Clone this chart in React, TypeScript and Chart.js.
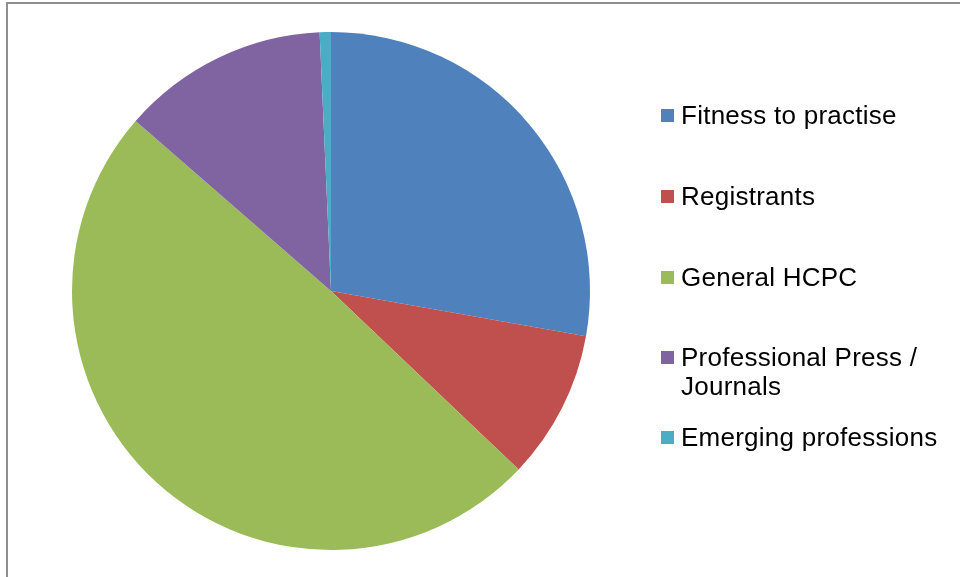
import React, { useEffect, useRef } from "react";
import Chart from "chart.js/auto";

const labels = [
  "Fitness to practise",
  "Registrants",
  "General HCPC",
  "Professional Press / Journals",
  "Emerging professions",
];
const values = [27.8, 9.3, 49.3, 12.9, 0.7];
const colors = ["#4F81BD", "#C0504D", "#9BBB59", "#8064A2", "#4BACC6"];

// legend layout (tops of each entry, px)
const legendTops = [101, 182, 263, 343, 423];

export default function App() {
  const ref = useRef<HTMLCanvasElement | null>(null);

  useEffect(() => {
    if (!ref.current) return;
    const chart = new Chart(ref.current, {
      type: "pie",
      data: {
        labels,
        datasets: [
          {
            data: values,
            backgroundColor: colors,
            borderWidth: 0,
            hoverOffset: 0,
          },
        ],
      },
      options: {
        responsive: false,
        animation: false,
        devicePixelRatio: 1,
        layout: { padding: { left: 72, right: 370, top: 32, bottom: 27 } },
        plugins: {
          legend: { display: false },
          tooltip: { enabled: false },
        },
      },
    });
    return () => chart.destroy();
  }, []);

  return (
    <div style={{ position: "absolute", left: 0, top: 0, width: 960, height: 577, overflow: "hidden", background: "#fff" }}>
      <div
        style={{
          position: "absolute",
          left: 6,
          top: 2,
          width: 1100,
          height: 1100,
          borderTop: "2px solid #8f8f8f",
          borderLeft: "2px solid #8f8f8f",
          boxSizing: "border-box",
        }}
      />
      <canvas ref={ref} width={960} height={577} style={{ position: "absolute", left: 0, top: 0, width: 960, height: 577 }} />
      {labels.map((l, i) => (
        <div
          key={l}
          style={{
            position: "absolute",
            left: 661,
            top: legendTops[i],
            display: "flex",
            alignItems: "flex-start",
            fontFamily: "'Liberation Sans', Arial, sans-serif",
            fontSize: 26,
            letterSpacing: "0.25px",
            lineHeight: "29px",
            color: "#000",
          }}
        >
          <div style={{ width: 13, height: 13, marginTop: 8, marginRight: 7, background: colors[i], flex: "none" }} />
          <div style={{ width: 280 }}>{l}</div>
        </div>
      ))}
    </div>
  );
}
